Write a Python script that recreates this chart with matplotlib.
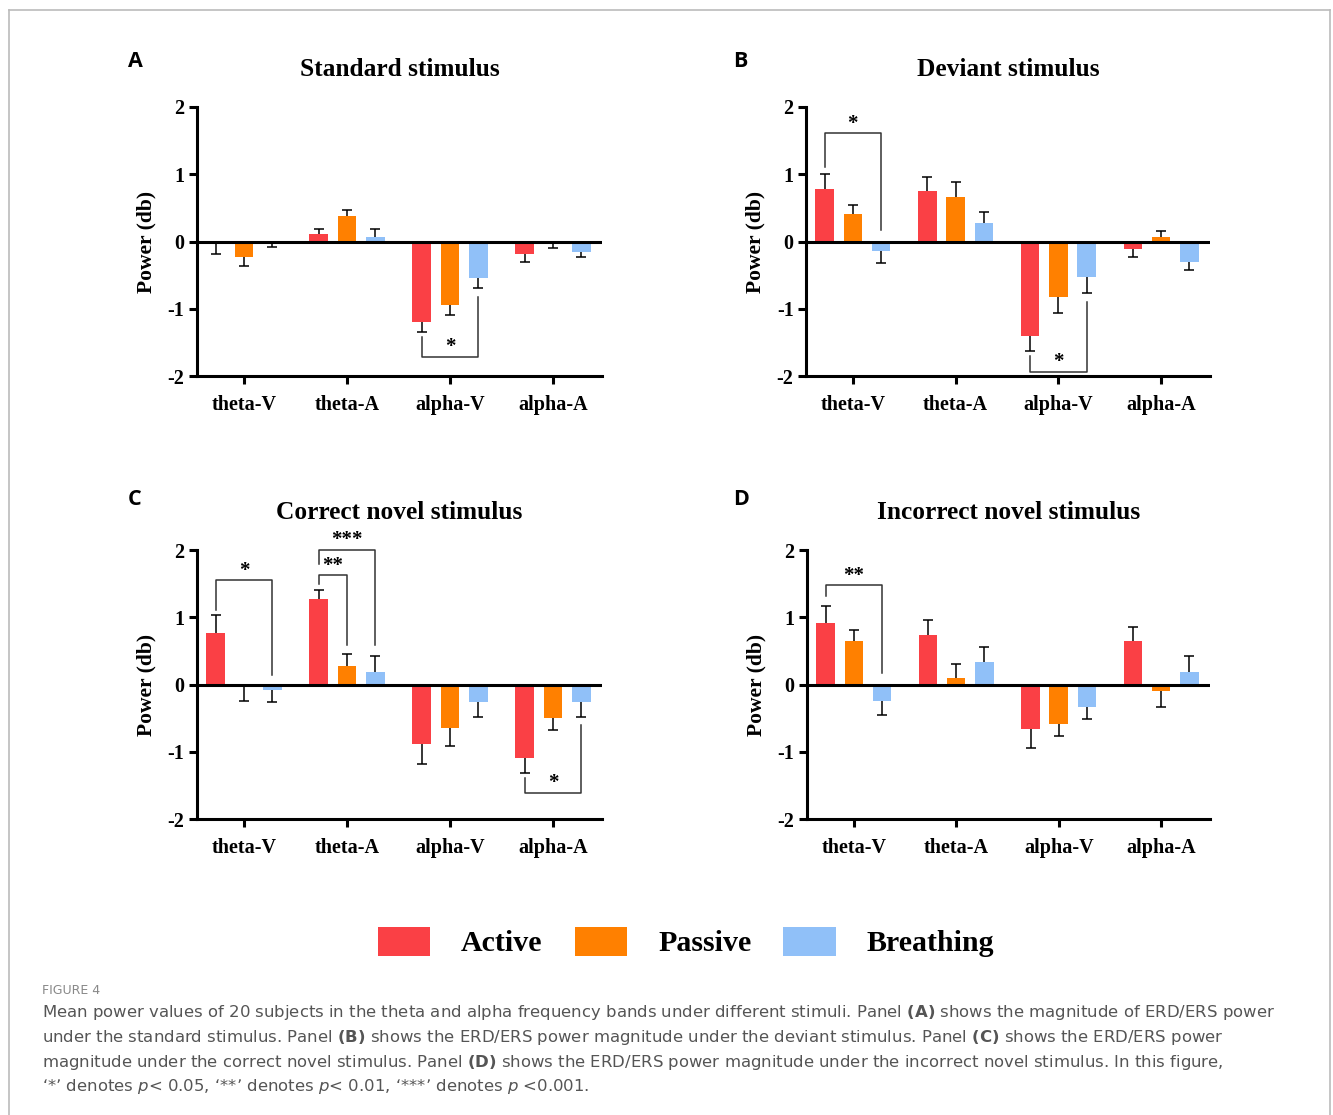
import numpy as np
import matplotlib.pyplot as plt
from matplotlib.lines import Line2D
from matplotlib.patches import Patch

plt.rcParams['font.family'] = ['Liberation Serif', 'Noto Sans CJK SC']
plt.rcParams['axes.unicode_minus'] = False
plt.rcParams['mathtext.fontset'] = 'dejavusans'

bands = ["theta-V", "theta-A", "alpha-V", "alpha-A"]
conditions = ["Active", "Passive", "Breathing"]
colors = ["#FA4045", "#FF8000", "#90C0F8"]
titles = ["Standard stimulus", "Deviant stimulus",
          "Correct novel stimulus", "Incorrect novel stimulus"]
letters = ["A", "B", "C", "D"]

# rows: Active, Passive, Breathing; columns: bands
std_mean = [[-0.02, 0.11, -1.19, -0.19],
            [-0.23, 0.38, -0.94, -0.005],
            [-0.005, 0.065, -0.55, -0.15]]
std_err = [[0.17, 0.08, 0.16, 0.11],
           [0.14, 0.09, 0.16, 0.085],
           [0.08, 0.12, 0.14, 0.08]]
dev_mean = [[0.78, 0.75, -1.40, -0.11],
            [0.41, 0.66, -0.82, 0.065],
            [-0.14, 0.28, -0.53, -0.31]]
dev_err = [[0.23, 0.21, 0.23, 0.12],
           [0.14, 0.22, 0.25, 0.09],
           [0.18, 0.16, 0.23, 0.11]]
cor_mean = [[0.77, 1.27, -0.88, -1.09],
            [-0.005, 0.27, -0.65, -0.50],
            [-0.08, 0.19, -0.26, -0.26]]
cor_err = [[0.27, 0.14, 0.30, 0.22],
           [0.24, 0.18, 0.27, 0.18],
           [0.18, 0.24, 0.23, 0.23]]
inc_mean = [[0.92, 0.73, -0.66, 0.64],
            [0.65, 0.10, -0.58, -0.09],
            [-0.25, 0.33, -0.33, 0.18]]
inc_err = [[0.25, 0.23, 0.29, 0.22],
           [0.16, 0.20, 0.18, 0.25],
           [0.20, 0.23, 0.18, 0.24]]

# significance: (band, cond_a, cond_b, start_a, start_b, bracket_y, label, label_y)
std_sig = [(2, 0, 2, -1.42, -0.82, -1.72, "*", -1.49)]
dev_sig = [(0, 0, 2, 1.11, 0.17, 1.62, "*", 1.83),
           (2, 0, 2, -1.71, -0.90, -1.94, "*", -1.71)]
cor_sig = [(0, 0, 2, 1.11, 0.14, 1.55, "*", 1.77),
           (1, 0, 1, 1.49, 0.59, 1.63, "**", 1.85),
           (1, 0, 2, 1.79, 0.59, 2.00, "***", 2.23),
           (3, 0, 2, -1.39, -0.60, -1.61, "*", -1.38)]
inc_sig = [(0, 0, 2, 1.32, 0.17, 1.48, "**", 1.69)]

panels = [(std_mean, std_err, std_sig), (dev_mean, dev_err, dev_sig),
          (cor_mean, cor_err, cor_sig), (inc_mean, inc_err, inc_sig)]

W, H = 1333, 1115
boxes = [(197, 107, 602, 376), (806, 107, 1210, 376),
         (197, 550, 602, 819), (807, 550, 1210, 819)]
letter_pos = [(128, 67), (733, 67), (128, 505), (733, 505)]

fig = plt.figure(figsize=(W / 100, H / 100), dpi=100)

x = np.arange(len(bands))
offset = 0.275
bw = 0.18

for k, (means, errs, sigs) in enumerate(panels):
    l, t, r, b = boxes[k]
    ax = fig.add_axes([l / W, 1 - b / H, (r - l) / W, (b - t) / H])
    for i, cond in enumerate(conditions):
        m = np.array(means[i])
        e = np.array(errs[i])
        xs = x + (i - 1) * offset
        ax.bar(xs, m, width=bw, color=colors[i], linewidth=0, zorder=2)
        tip = m + np.sign(m) * e
        ax.vlines(xs, m, tip, color='black', lw=1.1, zorder=2.5)
        ax.plot(xs, tip, ls='none', marker='_', ms=6.5, mew=1.1,
                color='black', zorder=2.5)
    ax.axhline(0, color='black', lw=2.2, zorder=3)

    for band, ca, cb, ya, yb, ybar, lab, ylab in sigs:
        xa = band + (ca - 1) * offset
        xb = band + (cb - 1) * offset
        ax.plot([xa, xa, xb, xb], [ya, ybar, ybar, yb], color='#333333',
                lw=1.1, clip_on=False, zorder=4)
        ax.text((xa + xb) / 2, ylab - 0.155, lab, ha='center', va='baseline',
                fontsize=15, fontweight='bold', clip_on=False)

    ax.set_xlim(-0.456, 3.476)
    ax.set_ylim(-2, 2)
    ax.set_yticks([-2, -1, 0, 1, 2])
    ax.set_yticklabels(["-2", "-1", "0", "1", "2"], fontweight='bold')
    ax.set_xticks(x)
    ax.set_xticklabels(bands, fontweight='bold')
    for s in ['top', 'right']:
        ax.spines[s].set_visible(False)
    for s in ['left', 'bottom']:
        ax.spines[s].set_linewidth(2.2)
    ax.tick_params(axis='both', direction='out', length=6, width=2.2,
                   labelsize=14.5)
    ax.tick_params(axis='x', pad=8)
    ax.tick_params(axis='y', pad=3)
    ax.set_ylabel("Power (db)", fontsize=15.5, fontweight='bold')
    ax.yaxis.set_label_coords(-0.1, 0.5)
    ax.set_title(titles[k], fontsize=18.3, fontweight='bold', pad=22)

    lx, ly = letter_pos[k]
    fig.text(lx / W, 1 - ly / H, letters[k], family='Open Sans',
             fontweight='bold', fontsize=15.5, ha='left', va='baseline')

handles = [Patch(facecolor=c, edgecolor='none') for c in colors]
fig.legend(handles, conditions, loc='center',
           bbox_to_anchor=(686 / W, 1 - 942 / H), ncol=3, frameon=False,
           prop={'weight': 'bold', 'size': 21.5}, handlelength=1.75,
           handleheight=1.15, handletextpad=1.05, columnspacing=1.07)

fig.text(42 / W, 1 - 990 / H, "FIGURE 4", family='DejaVu Sans',
         fontsize=9, color='#888888', va='center')
caption = [
    r"Mean power values of 20 subjects in the theta and alpha frequency bands "
    r"under different stimuli. Panel $\mathbf{(A)}$ shows the magnitude of ERD/ERS power",
    r"under the standard stimulus. Panel $\mathbf{(B)}$ shows the ERD/ERS power "
    r"magnitude under the deviant stimulus. Panel $\mathbf{(C)}$ shows the ERD/ERS power",
    r"magnitude under the correct novel stimulus. Panel $\mathbf{(D)}$ shows the "
    r"ERD/ERS power magnitude under the incorrect novel stimulus. In this figure,",
    r"‘*’ denotes $\mathit{p}$< 0.05, ‘**’ denotes $\mathit{p}$< 0.01, "
    r"‘***’ denotes $\mathit{p}$ <0.001.",
]
for j, line in enumerate(caption):
    fig.text(42 / W, 1 - (1013 + 24.5 * j) / H, line, family='DejaVu Sans',
             fontsize=11.85, color='#555555', va='center')

border = dict(color='#bbbbbb', lw=1.2)
fig.add_artist(Line2D([9 / W, 9 / W], [0, 1 - 10 / H], **border))
fig.add_artist(Line2D([9 / W, 1330 / W], [1 - 10 / H, 1 - 10 / H], **border))
fig.add_artist(Line2D([1330 / W, 1330 / W], [0, 1 - 10 / H], **border))

fig.savefig("out.png", dpi=100)
